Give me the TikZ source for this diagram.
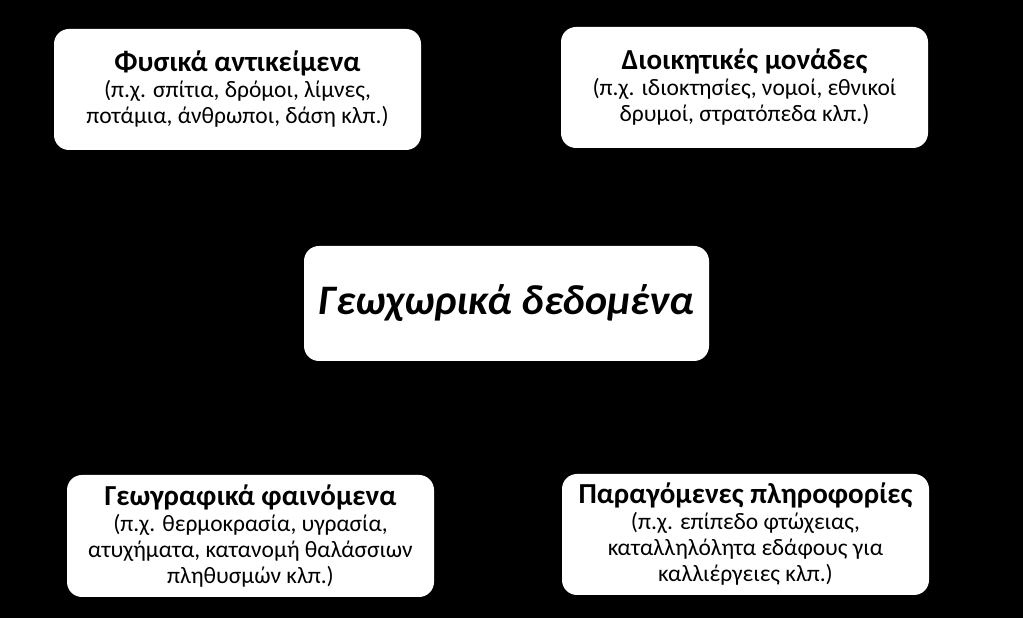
\documentclass[tikz,border=0pt]{standalone}
\usepackage{fontspec}
\setmainfont{Carlito}
\begin{document}
\begin{tikzpicture}[x=1pt,y=1pt,
  card/.style={fill=white, rounded corners=15pt, inner sep=0pt, align=center, text=black,
    font=\fontsize{23.5}{26}\selectfont}]
\fill[black] (0,0) rectangle (1023,618);
\useasboundingbox (0,0) rectangle (1023,618);
\node[card, minimum width=367pt, minimum height=121pt] (phys) at (237.5,528.5)
  {{\bfseries\fontsize{29}{27}\selectfont Φυσικά αντικείμενα}\\(π.χ. σπίτια, δρόμοι, λίμνες,\\ποτάμια, άνθρωποι, δάση κλπ.)};
\node[card, minimum width=367pt, minimum height=121pt] (admin) at (744.5,530.5)
  {{\bfseries\fontsize{29}{27}\selectfont Διοικητικές μονάδες}\\(π.χ. ιδιοκτησίες, νομοί, εθνικοί\\δρυμοί, στρατόπεδα κλπ.)};
\node[card, minimum width=405pt, minimum height=115pt, font=\bfseries\itshape\fontsize{42}{48}\selectfont] (geo) at (506.5,314.5)
  {Γεωχωρικά δεδομένα};
\node[card, minimum width=367pt, minimum height=122pt] (phen) at (250.5,82)
  {{\bfseries\fontsize{29}{27}\selectfont Γεωγραφικά φαινόμενα}\\(π.χ. θερμοκρασία, υγρασία,\\ατυχήματα, κατανομή θαλάσσιων\\πληθυσμών κλπ.)};
\node[card, minimum width=367pt, minimum height=121pt] (deriv) at (745.5,83.5)
  {{\bfseries\fontsize{29}{27}\selectfont Παραγόμενες πληροφορίες}\\(π.χ. επίπεδο φτώχειας,\\καταλληλόλητα εδάφους για\\καλλιέργειες κλπ.)};
\end{tikzpicture}
\end{document}
